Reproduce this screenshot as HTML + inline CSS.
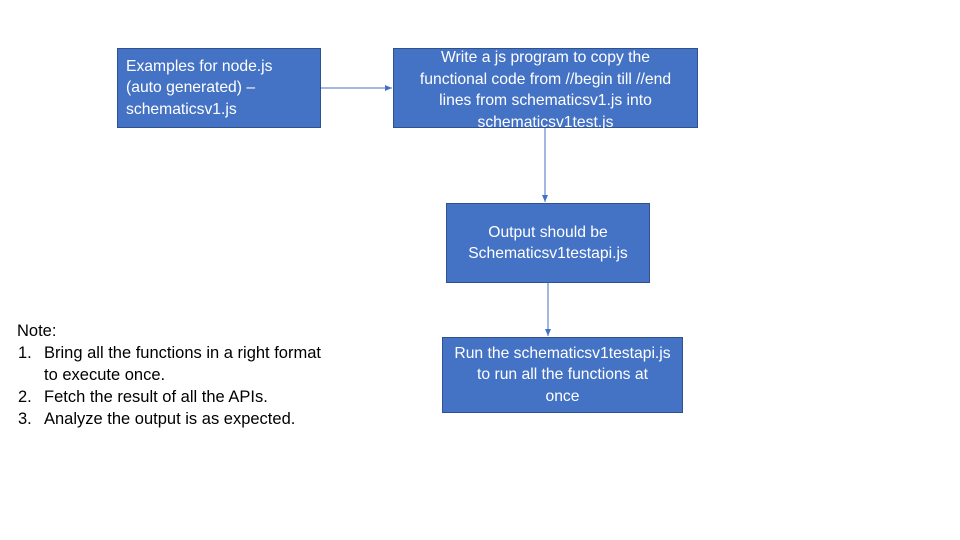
<!DOCTYPE html>
<html><head><meta charset="utf-8"><style>
body{margin:0;width:960px;height:540px;background:#fff;position:relative;overflow:hidden;font-family:"Liberation Sans",sans-serif}
.b{position:absolute;background:#4472C4;border:1px solid #2F528F;box-sizing:border-box;color:#fff;font-size:15.7px;line-height:21.5px;display:flex;align-items:center}
.c{justify-content:center;text-align:center}
.n{position:absolute;left:17px;top:320px;font-size:16.5px;line-height:22px;color:#000}
.n div{position:relative;padding-left:27px}
.n span{position:absolute;left:1px}
</style></head><body>
<div class="b" style="left:117px;top:48px;width:204px;height:80px;padding-left:8px">Examples for node.js<br>(auto generated) –<br>schematicsv1.js</div>
<div class="b c" style="left:393px;top:48px;width:305px;height:80px;padding-top:4px">Write a js program to copy the<br>functional code from //begin till //end<br>lines from schematicsv1.js into<br>schematicsv1test.js</div>
<div class="b c" style="left:446px;top:203px;width:204px;height:80px">Output should be<br>Schematicsv1testapi.js</div>
<div class="b c" style="left:442px;top:337px;width:241px;height:76px">Run the schematicsv1testapi.js<br>to run all the functions at<br>once</div>
<svg style="position:absolute;left:0;top:0" width="960" height="540">
<defs><marker id="a" markerWidth="8" markerHeight="8" refX="7" refY="4" orient="auto" markerUnits="userSpaceOnUse"><path d="M0,1 L7,4 L0,7z" fill="#4472C4"/></marker></defs>
<g stroke="#4472C4" stroke-width="1" marker-end="url(#a)">
<line x1="321" y1="88" x2="392" y2="88"/>
<line x1="545" y1="128" x2="545" y2="202"/>
<line x1="548" y1="283" x2="548" y2="336"/>
</g></svg>
<div class="n">Note:
<div><span>1.</span>Bring all the functions in a right format<br>to execute once.</div>
<div><span>2.</span>Fetch the result of all the APIs.</div>
<div><span>3.</span>Analyze the output is as expected.</div>
</div>
</body></html>
